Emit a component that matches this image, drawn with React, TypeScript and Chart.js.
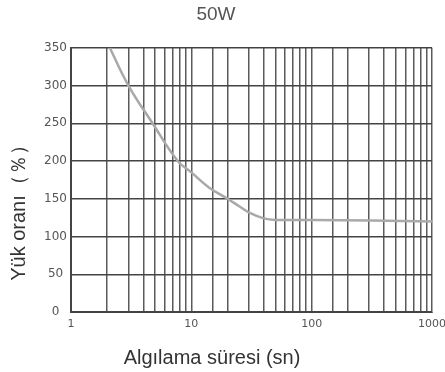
import React, { useEffect, useRef } from "react";
import { Chart, registerables } from "chart.js";

Chart.register(...registerables);

const chartTitle = "50W";
const xTitle = "Algılama süresi (sn)";
const yTitle = "Yük oranı（％）";
const timeSec = [2.1, 3, 4.76, 7.7, 10, 14, 20, 25, 30, 40, 50, 100, 1000];
const loadPct = [350, 300, 250, 200, 185, 165, 150, 140, 132, 124, 122, 122, 120];
const yTicks = [0, 50, 100, 150, 200, 250, 300, 350];
const xLabels = [1, 10, 100, 1000];

const axisTitles = {
  id: "axisTitles",
  afterDraw(chart: any) {
    const ctx = chart.ctx;
    ctx.save();
    ctx.fillStyle = "#333";
    ctx.font = '20px "Liberation Sans"';
    ctx.textAlign = "center";
    ctx.textBaseline = "middle";
    ctx.fillText(xTitle, 212, 358);
    ctx.translate(19, 208);
    ctx.rotate(-Math.PI / 2);
    ctx.fillText(yTitle, 0, 0);
    ctx.restore();
  },
};

export default function App() {
  const ref = useRef<HTMLCanvasElement | null>(null);
  useEffect(() => {
    if (!ref.current) return;
    const chart = new Chart(ref.current, {
      type: "line",
      data: {
        datasets: [
          {
            data: timeSec.map((t, i) => ({ x: t, y: loadPct[i] })),
            borderColor: "#a9a9a9",
            borderWidth: 2.5,
            pointRadius: 0,
            tension: 0.4,
            fill: false,
          },
        ],
      },
      plugins: [axisTitles],
      options: {
        animation: false,
        responsive: false,
        layout: { padding: { left: 0, right: 13, top: 0, bottom: 0 } },
        plugins: {
          legend: { display: false },
          tooltip: { enabled: false },
          title: {
            display: true,
            text: chartTitle,
            color: "#555",
            font: { family: "Liberation Sans", size: 19, weight: "normal" },
            padding: { top: 3, bottom: 22 },
          },
        },
        scales: {
          x: {
            type: "logarithmic",
            min: 1,
            max: 1000,
            afterFit: (s: any) => {
              s.height = 60;
              s.paddingRight = 0;
              s.paddingLeft = 0;
            },
            grid: { color: "#5a5a5a", lineWidth: 1.5, tickLength: 0 },
            border: { color: "#444", width: 2 },
            ticks: {
              autoSkip: false,
              maxRotation: 0,
              padding: 6,
              color: "#555",
              font: { family: "DejaVu Sans", size: 11 },
              callback: (v: any) => (xLabels.includes(Number(v)) ? String(v) : ""),
            },
          },
          y: {
            min: 0,
            max: 350,
            afterFit: (s: any) => {
              s.width = 71;
            },
            afterBuildTicks: (s: any) => {
              s.ticks = yTicks.map((v) => ({ value: v }));
            },
            grid: { color: "#444", lineWidth: 1.5, tickLength: 0 },
            border: { color: "#444", width: 2 },
            ticks: {
              padding: 4,
              crossAlign: "center",
              color: "#555",
              font: { family: "DejaVu Sans", size: 12 },
            },
          },
        },
      },
    });
    return () => chart.destroy();
  }, []);
  return (
    <div style={{ position: "fixed", left: 0, top: 0, width: 445, height: 372, background: "#fff" }}>
      <canvas ref={ref} width={445} height={372} style={{ width: 445, height: 372 }} />
    </div>
  );
}
